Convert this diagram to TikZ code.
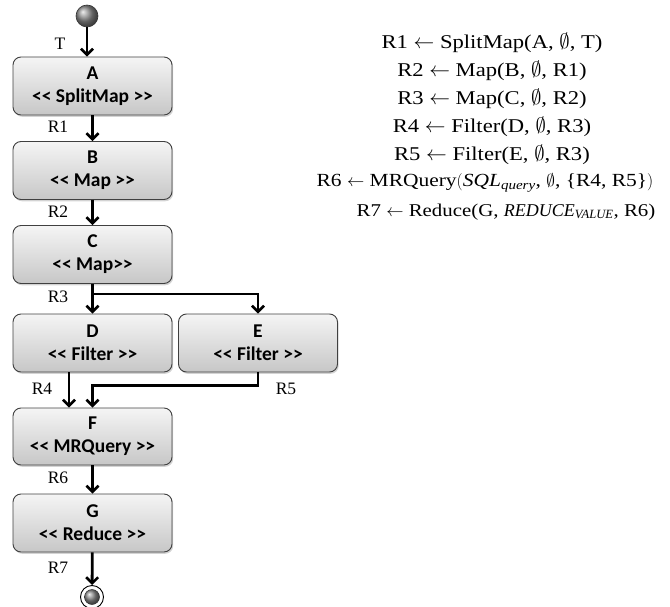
\documentclass[tikz,border=0pt]{standalone}
\usepackage{fontspec}
\setmainfont{Liberation Serif}
\newfontfamily\boxfont{Carlito}
\newfontfamily\eqfont[FakeStretch=1.16]{Liberation Serif}
\newfontfamily\eqplain{Liberation Serif}
\newcommand\bfs{\boxfont\bfseries\fontsize{19.5}{23}\selectfont}
\newcommand\bxt[2]{{\bfs #1}\\{\bfs #2}}
\usetikzlibrary{arrows.meta,shadows,calc}
\begin{document}
\begin{tikzpicture}[x=1pt,y=-1pt,
  opbox/.style={draw=black!75, line width=0.9pt, rounded corners=8pt,
    top color=black!4, bottom color=black!22,
    minimum width=159pt, minimum height=58pt, align=center,
    font=\bfs, inner sep=1pt,
    drop shadow={opacity=0.35, shadow xshift=1.2pt, shadow yshift=-1.8pt}},
  arr/.style={line width=2.8pt, -{Straight Barb[length=6pt,width=12pt,line width=2.6pt]}},
  lbl/.style={font=\fontsize{17.5}{20}\selectfont},
  eq/.style={font=\eqfont\fontsize{19.5}{23}\selectfont}]
\useasboundingbox (0,0) rectangle (670,607);

\node[circle, minimum size=22pt, inner sep=0pt, draw=black!80, line width=0.6pt, ball color=black!45] (start) at (87,16) {};
\node[opbox] (A) at (92.5,86) {\bxt{A}{<< SplitMap >>}};
\node[opbox] (B) at (92.5,170.5) {\bxt{B}{<< Map >>}};
\node[opbox] (C) at (92.5,254.5) {\bxt{C}{<< Map>>}};
\node[opbox] (D) at (92.5,343) {\bxt{D}{<< Filter >>}};
\node[opbox] (E) at (258,343) {\bxt{E}{<< Filter >>}};
\node[opbox, minimum height=57pt] (F) at (92.5,436.5) {\bxt{F}{<< MRQuery >>}};
\node[opbox] (G) at (92.5,523) {\bxt{G}{<< Reduce >>}};
\node[circle, minimum size=23pt, inner sep=0pt, draw=black, line width=0.9pt, fill=white] (end) at (92,597) {};
\node[circle, minimum size=15pt, inner sep=0pt, draw=black!80, line width=0.5pt, ball color=black!45] (endin) at (end) {};

\coordinate (br) at ($(C.south)+(0,10)$);
\coordinate (ej) at ($(E.south)+(0,13)$);

\draw[arr] (start.south) -- (start.south |- A.north);
\draw[arr] (A) -- (B);
\draw[arr] (B) -- (C);
\draw[arr] (C) -- (D);
\draw[arr] (br) -| (E.north);
\draw[arr] ([xshift=-23.5pt]D.south) -- ([xshift=-23.5pt]F.north);
\draw[arr] (E.south) -- (ej) -| (F.north);
\draw[arr] (F) -- (G);
\draw[arr] (G) -- (end);

\node[lbl] (lT) at (60,44) {T};
\node[lbl] (l1) at (58,127) {R1};
\node[lbl] (l2) at (58,212) {R2};
\node[lbl] (l3) at (58,297) {R3};
\node[lbl] (l4) at (42,389) {R4};
\node[lbl] (l5) at (286,389) {R5};
\node[lbl] (l6) at (58,478) {R6};
\node[lbl] (l7) at (58,568) {R7};

\node[eq] (e1) at (492,43) {R1 $\leftarrow$ SplitMap(A, $\emptyset$, T)};
\node[eq] (e2) at (492,71) {R2 $\leftarrow$ Map(B, $\emptyset$, R1)};
\node[eq] (e3) at (492,99) {R3 $\leftarrow$ Map(C, $\emptyset$, R2)};
\node[eq] (e4) at (492,127) {R4 $\leftarrow$ Filter(D, $\emptyset$, R3)};
\node[eq] (e5) at (492,155) {R5 $\leftarrow$ Filter(E, $\emptyset$, R3)};
\node[eq, font=\eqfont\fontsize{18.5}{22}\selectfont] (e6) at (485,183) {R6 $\leftarrow$ MRQuery$\bigl($\textit{SQL}\textsubscript{\textit{query}}, $\emptyset$, \{R4, R5\}$\bigr)$};
\node[eq, font=\eqfont\fontsize{18}{22}\selectfont] (e7) at (506,212) {R7 $\leftarrow$ Reduce(G, {\eqplain\itshape REDUCE\textsubscript{VALUE}}, R6)};
\end{tikzpicture}
\end{document}
